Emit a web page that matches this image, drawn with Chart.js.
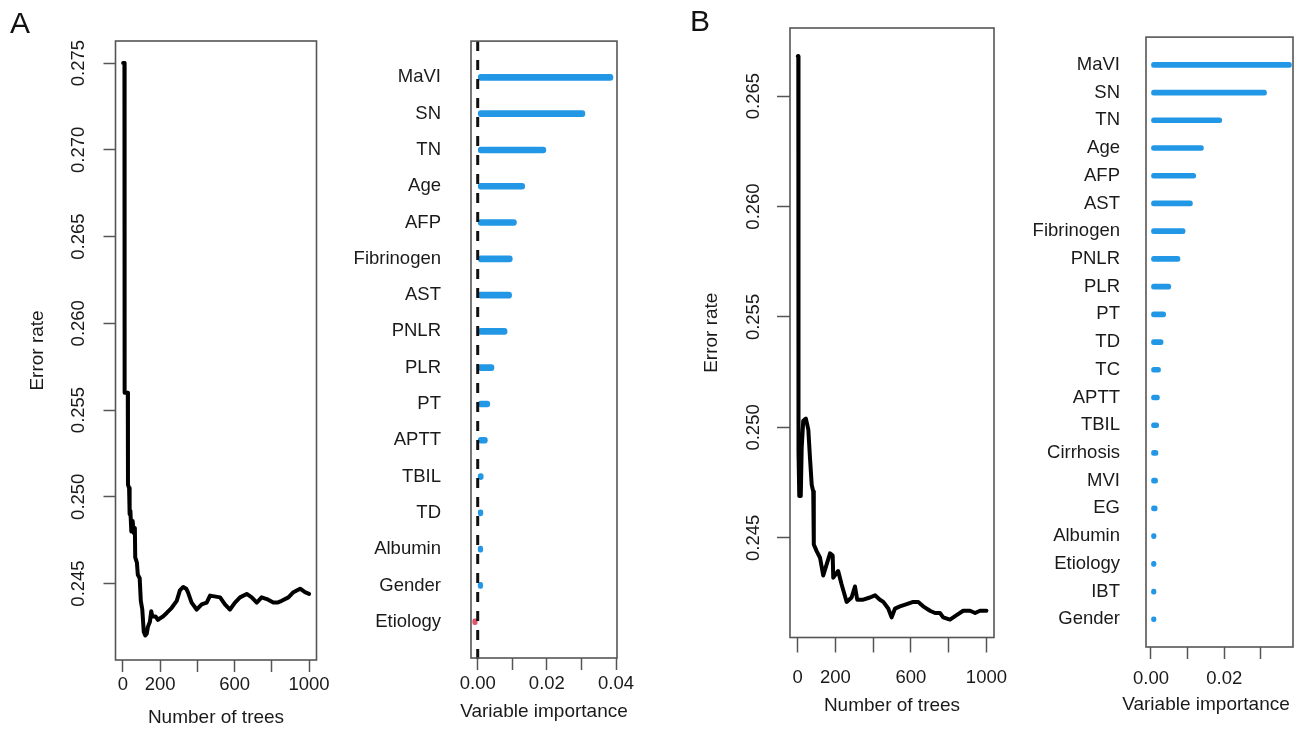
<!DOCTYPE html>
<html>
<head>
<meta charset="utf-8">
<script src="https://cdn.jsdelivr.net/npm/chart.js@4.4.1/dist/chart.umd.min.js"></script>
<style>
html, body { margin: 0; padding: 0; background: #fff; }
#wrap { position: relative; width: 1297px; height: 729px; overflow: hidden; background: #fff; }
#wrap canvas { position: absolute; left: 0; top: 0; }
.panel-letter { position: absolute; font-family: 'Liberation Sans', Arial, sans-serif; font-size: 30px; line-height: 1; color: #111; }
</style>
</head>
<body>
<div id="wrap">
  <canvas id="cA1" width="1297" height="729"></canvas>
  <canvas id="cA2" width="1297" height="729"></canvas>
  <canvas id="cB1" width="1297" height="729"></canvas>
  <canvas id="cB2" width="1297" height="729"></canvas>
  <div class="panel-letter" style="left:10px;top:8px;">A</div>
  <div class="panel-letter" style="left:690px;top:6px;">B</div>
</div>
<script>
// ---------------- DATA ----------------
// Panel A: OOB error rate vs number of trees
const treesA = [1, 8, 9, 26, 27, 33, 36, 40, 45, 52, 58, 64, 66, 75, 80, 90, 96, 104, 112, 120, 128, 134, 145, 152, 158, 175, 188, 200, 215, 235, 262, 289, 306, 324, 340, 349, 369, 396, 423, 450, 468, 522, 548, 575, 602, 629, 665, 692, 719, 745, 773, 808, 830, 853, 889, 916, 952, 978, 1000];
const errorA = [0.2750, 0.2750, 0.2560, 0.2560, 0.2507, 0.2505, 0.2490, 0.2492, 0.2480, 0.2486, 0.2479, 0.2482, 0.2465, 0.2462, 0.2455, 0.2453, 0.2440, 0.2435, 0.2422, 0.2420, 0.2421, 0.2425, 0.2428, 0.2434, 0.2431, 0.2431, 0.2429, 0.2430, 0.2431, 0.2433, 0.2436, 0.2440, 0.2446, 0.2448, 0.2447, 0.2445, 0.2439, 0.2435, 0.2438, 0.2439, 0.2443, 0.2442, 0.2438, 0.2435, 0.2439, 0.2442, 0.2444, 0.2442, 0.2439, 0.2442, 0.2441, 0.2439, 0.2439, 0.2440, 0.2442, 0.2445, 0.2447, 0.2445, 0.2444];

// Panel B: OOB error rate vs number of trees
const treesB = [1, 4, 5, 9, 13, 17, 22, 30, 44, 57, 66, 75, 83, 86, 101, 119, 136, 154, 172, 186, 189, 215, 233, 260, 286, 304, 316, 348, 383, 410, 436, 454, 480, 498, 516, 542, 578, 612, 639, 665, 701, 728, 754, 771, 807, 842, 877, 913, 940, 966, 1000];
const errorB = [0.2668, 0.2668, 0.2489, 0.2469, 0.2491, 0.2469, 0.2491, 0.2503, 0.2504, 0.2499, 0.2486, 0.2474, 0.2471, 0.2447, 0.2444, 0.2441, 0.2433, 0.2438, 0.2443, 0.2442, 0.2432, 0.2435, 0.2429, 0.2421, 0.2423, 0.2428, 0.2422, 0.2422, 0.2423, 0.2424, 0.2422, 0.2421, 0.2418, 0.2414, 0.2418, 0.2419, 0.2420, 0.2421, 0.2421, 0.2419, 0.2417, 0.2416, 0.2416, 0.2414, 0.2413, 0.2415, 0.2417, 0.2417, 0.2416, 0.2417, 0.2417];

// Variable importance
const varsA = ['MaVI', 'SN', 'TN', 'Age', 'AFP', 'Fibrinogen', 'AST', 'PNLR', 'PLR', 'PT', 'APTT', 'TBIL', 'TD', 'Albumin', 'Gender', 'Etiology'];
const vimpA = [0.0391, 0.0310, 0.0197, 0.0136, 0.0112, 0.0100, 0.0098, 0.0085, 0.0047, 0.0035, 0.0028, 0.0016, 0.0015, 0.0014, 0.0004, -0.0001];

const varsB = ['MaVI', 'SN', 'TN', 'Age', 'AFP', 'AST', 'Fibrinogen', 'PNLR', 'PLR', 'PT', 'TD', 'TC', 'APTT', 'TBIL', 'Cirrhosis', 'MVI', 'EG', 'Albumin', 'Etiology', 'IBT', 'Gender'];
const vimpB = [0.0383, 0.0315, 0.0193, 0.0143, 0.0122, 0.0113, 0.0093, 0.0079, 0.0054, 0.0040, 0.0033, 0.0026, 0.0023, 0.0021, 0.0019, 0.0018, 0.0017, 0.0014, 0.0009, 0.0008, 0.0006];

// Tick values and labels
const treeTicks = [0, 200, 400, 600, 800, 1000];
const treeTickLabels = ['0', '200', '', '600', '', '1000'];
const errTicksA = [0.245, 0.250, 0.255, 0.260, 0.265, 0.270, 0.275];
const errTickLabelsA = ['0.245', '0.250', '0.255', '0.260', '0.265', '0.270', '0.275'];
const errTicksB = [0.245, 0.250, 0.255, 0.260, 0.265];
const errTickLabelsB = ['0.245', '0.250', '0.255', '0.260', '0.265'];
const vimpTicksA = [0, 0.01, 0.02, 0.03, 0.04];
const vimpTickLabelsA = ['0.00', '', '0.02', '', '0.04'];
const vimpTicksB = [0, 0.01, 0.02, 0.03];
const vimpTickLabelsB = ['0.00', '', '0.02', ''];

// ---------------- STYLE / LAYOUT ----------------
const W = 1297, H = 729;
const FAMILY = "'Liberation Sans', Arial, Helvetica, sans-serif";
const FONT = { family: FAMILY, size: 18.5 };
const TFONT = { family: FAMILY, size: 19 };
const TXT = '#1a1a1a';
const BLUE = '#2297E6', RED = '#DF536B';

const boxPlugin = {
  id: 'panelBox',
  afterDatasetsDraw(chart, args, opts) {
    const a = chart.chartArea, ctx = chart.ctx;
    ctx.save();
    if (opts && opts.zeroLine) {
      const x0 = chart.scales.x.getPixelForValue(0);
      ctx.setLineDash([10, 9]);
      ctx.strokeStyle = '#111';
      ctx.lineWidth = 3;
      ctx.beginPath();
      ctx.moveTo(x0, a.top);
      ctx.lineTo(x0, a.bottom + 8);
      ctx.stroke();
      ctx.setLineDash([]);
    }
    ctx.strokeStyle = '#555';
    ctx.lineWidth = 1.6;
    ctx.strokeRect(a.left, a.top, a.right - a.left, a.bottom - a.top);
    if (opts && opts.xTitle) {
      ctx.font = TFONT.size + 'px ' + FAMILY;
      ctx.fillStyle = TXT;
      ctx.textAlign = 'center';
      ctx.textBaseline = 'middle';
      const cx = (opts.xTitleX != null) ? opts.xTitleX : (a.left + a.right) / 2;
      ctx.fillText(opts.xTitle, cx, opts.xTitleY);
    }
    ctx.restore();
  }
};

function linePanel(cfg) {
  const b = cfg.box, YW = 100;
  return new Chart(document.getElementById(cfg.id), {
    type: 'line',
    data: {
      datasets: [{
        data: cfg.trees.map((t, i) => ({ x: t, y: cfg.err[i] })),
        borderColor: '#000', borderWidth: 4, pointRadius: 0, pointHoverRadius: 0,
        tension: 0, fill: false, borderJoinStyle: 'round', borderCapStyle: 'round'
      }]
    },
    options: {
      responsive: false, animation: false, devicePixelRatio: 1, events: [],
      layout: { padding: { left: b.l - YW, right: W - b.r, top: b.t, bottom: 0 } },
      plugins: { legend: { display: false }, tooltip: { enabled: false }, panelBox: {} },
      scales: {
        x: {
          type: 'linear', min: -40, max: 1040, bounds: 'data',
          afterBuildTicks: s => { s.ticks = treeTicks.map(v => ({ value: v })); },
          afterFit: s => { s.height = H - b.b; },
          ticks: { autoSkip: false, minRotation: 0, maxRotation: 0, padding: cfg.xPad, color: TXT, font: FONT,
                   callback: (v, i) => treeTickLabels[i] },
          grid: { display: true, drawOnChartArea: false, drawTicks: true, tickLength: cfg.xTick, tickColor: '#555', tickWidth: 1.5 },
          border: { display: false },
          title: { display: true, text: 'Number of trees', color: TXT, font: TFONT, padding: { top: 0, bottom: cfg.xTitlePad } }
        },
        y: {
          type: 'linear', min: cfg.yRange[0], max: cfg.yRange[1], bounds: 'data',
          afterBuildTicks: s => { s.ticks = cfg.yTicks.map(v => ({ value: v })); },
          afterFit: s => { s.width = YW; },
          ticks: { autoSkip: false, minRotation: 90, maxRotation: 90, crossAlign: 'center', padding: cfg.yPad, color: TXT, font: FONT,
                   callback: (v, i) => cfg.yLabels[i] },
          grid: { display: true, drawOnChartArea: false, drawTicks: true, tickLength: cfg.yTick, tickColor: '#555', tickWidth: 1.5 },
          border: { display: false },
          title: { display: true, text: 'Error rate', color: TXT, font: TFONT, padding: { top: cfg.yTitlePad, bottom: 0 } }
        }
      }
    },
    plugins: [boxPlugin]
  });
}

function barPanel(cfg) {
  const b = cfg.box, YW = 160, n = cfg.vars.length;
  return new Chart(document.getElementById(cfg.id), {
    type: 'bar',
    data: {
      datasets: [{
        data: cfg.vimp.map((v, i) => ({ x: v, y: i + 1 })),
        backgroundColor: cfg.vimp.map(v => v < 0 ? RED : BLUE),
        barThickness: cfg.barT, borderRadius: cfg.barT / 2, borderSkipped: false,
        borderWidth: 0, minBarLength: 5
      }]
    },
    options: {
      indexAxis: 'y', responsive: false, animation: false, devicePixelRatio: 1, events: [],
      layout: { padding: { left: b.l - YW, right: W - b.r, top: b.t, bottom: 0 } },
      plugins: { legend: { display: false }, tooltip: { enabled: false },
                 panelBox: { zeroLine: cfg.zeroLine, xTitle: 'Variable importance', xTitleX: cfg.titleX, xTitleY: cfg.titleY } },
      scales: {
        x: {
          type: 'linear', min: cfg.xRange[0], max: cfg.xRange[1], bounds: 'data',
          afterBuildTicks: s => { s.ticks = cfg.xTicks.map(v => ({ value: v })); },
          afterFit: s => { s.height = H - b.b; },
          ticks: { autoSkip: false, minRotation: 0, maxRotation: 0, padding: cfg.xPad, color: TXT, font: FONT,
                   callback: (v, i) => cfg.xLabels[i] },
          grid: { display: true, drawOnChartArea: false, drawTicks: true, tickLength: cfg.xTick, tickColor: '#555', tickWidth: 1.5 },
          border: { display: false },
          title: { display: false }
        },
        y: {
          type: 'linear', min: 0, max: n + 1, reverse: true, offset: false, bounds: 'data',
          afterBuildTicks: s => { s.ticks = cfg.vars.map((_, i) => ({ value: i + 1 })); },
          afterFit: s => { s.width = YW; },
          ticks: { autoSkip: false, padding: cfg.lblPad, color: TXT, font: FONT, crossAlign: 'near',
                   callback: (v, i) => cfg.vars[i] },
          grid: { display: false, drawTicks: false, offset: false },
          border: { display: false }
        }
      }
    },
    plugins: [boxPlugin]
  });
}

// ---------------- CHARTS ----------------
linePanel({
  id: 'cA1', trees: treesA, err: errorA,
  box: { l: 115.5, r: 316.5, t: 41, b: 660 },
  yRange: [0.24059, 0.27627], yTicks: errTicksA, yLabels: errTickLabelsA,
  xTick: 12, xPad: 2, xTitlePad: 0, yTick: 12, yPad: 1, yTitlePad: 10.5
});
barPanel({
  id: 'cA2', vars: varsA, vimp: vimpA,
  box: { l: 471, r: 617, t: 40, b: 658 },
  xRange: [-0.00194, 0.04028], xTicks: vimpTicksA, xLabels: vimpTickLabelsA,
  barT: 6, zeroLine: true, lblPad: 30, xTick: 12, xPad: 3, titleY: 712, titleX: null
});
linePanel({
  id: 'cB1', trees: treesB, err: errorB,
  box: { l: 790, r: 994, t: 28, b: 637.5 },
  yRange: [0.24049, 0.26808], yTicks: errTicksB, yLabels: errTickLabelsB,
  xTick: 15, xPad: 14, xTitlePad: 12, yTick: 13, yPad: 0, yTitlePad: 10
});
barPanel({
  id: 'cB2', vars: varsB, vimp: vimpB,
  box: { l: 1146, r: 1293, t: 36, b: 647 },
  xRange: [-0.00136, 0.03873], xTicks: vimpTicksB, xLabels: vimpTickLabelsB,
  barT: 5, zeroLine: false, lblPad: 26, xTick: 12, xPad: 9, titleY: 705, titleX: 1206
});
</script>
</body>
</html>
